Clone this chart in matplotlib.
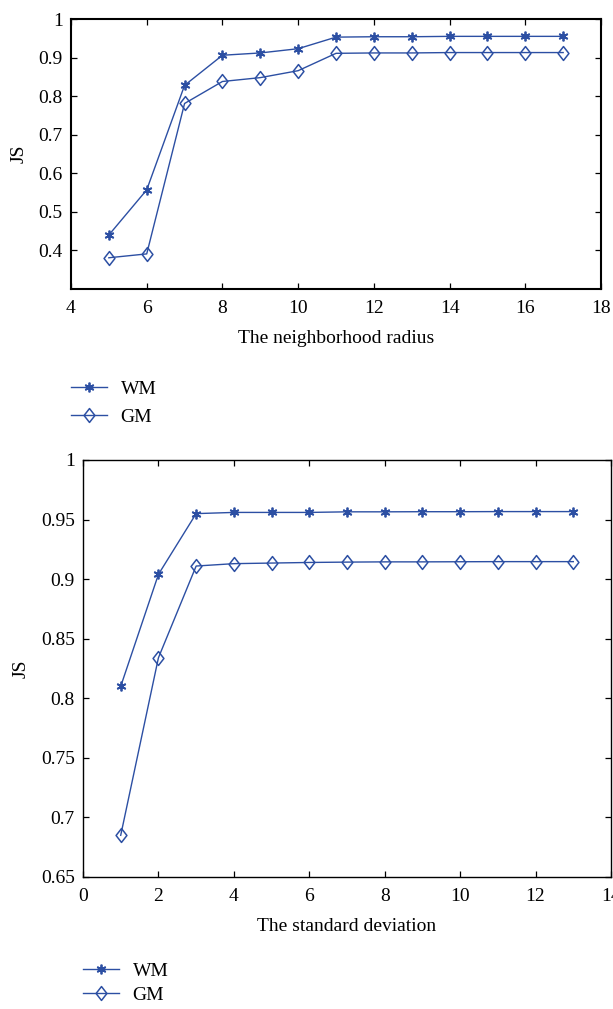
import matplotlib
matplotlib.use("Agg")
import matplotlib.pyplot as plt
from matplotlib.ticker import FuncFormatter
from matplotlib.path import Path

# ---- data ----
radius = [5, 6, 7, 8, 9, 10, 11, 12, 13, 14, 15, 16, 17]
wm_radius = [0.440, 0.557, 0.828, 0.906, 0.912, 0.923, 0.953, 0.954, 0.954, 0.955, 0.955, 0.955, 0.955]
gm_radius = [0.381, 0.391, 0.781, 0.838, 0.848, 0.866, 0.911, 0.912, 0.912, 0.913, 0.913, 0.913, 0.913]

sigma = [1, 2, 3, 4, 5, 6, 7, 8, 9, 10, 11, 12, 13]
wm_sigma = [0.810, 0.904, 0.955, 0.956, 0.956, 0.956, 0.9565, 0.9565, 0.9566, 0.9566, 0.9567, 0.9567, 0.9567]
gm_sigma = [0.685, 0.834, 0.911, 0.913, 0.9135, 0.914, 0.9143, 0.9145, 0.9145, 0.9146, 0.9147, 0.9147, 0.9147]

top_xticks = [4, 6, 8, 10, 12, 14, 16, 18]
top_yticks = [0.4, 0.5, 0.6, 0.7, 0.8, 0.9, 1.0]
bot_xticks = [0, 2, 4, 6, 8, 10, 12, 14]
bot_yticks = [0.65, 0.7, 0.75, 0.8, 0.85, 0.9, 0.95, 1.0]

plt.rcParams['font.family'] = ['Liberation Serif', 'DejaVu Serif']
FS = 14
COLOR = '#2c4fa3'

W, H = 613, 1009
fig = plt.figure(figsize=(W / 100, H / 100), dpi=100)

def fx(px):
    return px / W

def fy(py):
    return 1 - py / H

fmt = FuncFormatter(lambda v, p: ('%g' % round(v, 4)))

DIAMOND = Path([(0, 1), (0.78, 0), (0, -1), (-0.78, 0), (0, 1)],
               [Path.MOVETO, Path.LINETO, Path.LINETO, Path.LINETO, Path.CLOSEPOLY])

def style(ax, lw):
    for s in ax.spines.values():
        s.set_linewidth(lw)
    ax.tick_params(direction='in', length=4, width=0.9, top=True, right=True,
                   labelsize=FS)
    ax.tick_params(axis='x', pad=8)
    ax.tick_params(axis='y', pad=6)
    ax.xaxis.set_major_formatter(fmt)
    ax.yaxis.set_major_formatter(fmt)

def draw(ax, x, wm, gm):
    ax.plot(x, wm, color=COLOR, lw=1.0, marker=(6, 2, 0), ms=7, mew=1.3, label='WM')
    ax.plot(x, gm, color=COLOR, lw=1.0, marker=DIAMOND, ms=10, mfc='none', mew=1.1, label='GM')

# top axes
ax1 = fig.add_axes([fx(71), fy(289), fx(601 - 71), fy(19) - fy(289)])
draw(ax1, radius, wm_radius, gm_radius)
ax1.set_xlim(4, 18)
ax1.set_ylim(0.3, 1.0)
ax1.set_xticks(top_xticks)
ax1.set_yticks(top_yticks)
style(ax1, 1.5)
ax1.set_xlabel('The neighborhood radius', fontsize=FS, labelpad=9)
ax1.set_ylabel('JS', fontsize=FS, labelpad=8)
ax1.legend(loc='upper left', bbox_to_anchor=(fx(71), fy(380)), bbox_transform=fig.transFigure,
           frameon=False, fontsize=FS, handlelength=1.85, handletextpad=0.7,
           labelspacing=0.55, borderpad=0, borderaxespad=0)

# bottom axes
ax2 = fig.add_axes([fx(83), fy(877), fx(611 - 83), fy(460) - fy(877)])
draw(ax2, sigma, wm_sigma, gm_sigma)
ax2.set_xlim(0, 14)
ax2.set_ylim(0.65, 1.0)
ax2.set_xticks(bot_xticks)
ax2.set_yticks(bot_yticks)
style(ax2, 1.0)
ax2.set_xlabel('The standard deviation', fontsize=FS, labelpad=9)
ax2.set_ylabel('JS', fontsize=FS, labelpad=8)
ax2.legend(loc='upper left', bbox_to_anchor=(fx(83), fy(962)), bbox_transform=fig.transFigure,
           frameon=False, fontsize=FS, handlelength=1.85, handletextpad=0.7,
           labelspacing=0.35, borderpad=0, borderaxespad=0)

fig.savefig('out.png', dpi=100)
